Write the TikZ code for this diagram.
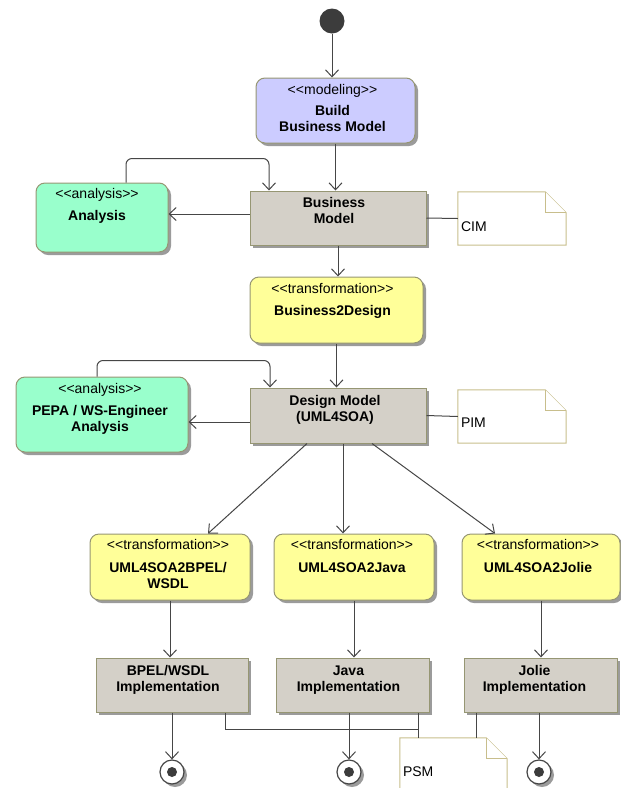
\documentclass[tikz,border=0pt]{standalone}
\usepackage{fontspec}
\setmainfont{Liberation Sans}
\usetikzlibrary{arrows.meta,shadows}
\definecolor{modelc}{RGB}{204,204,255}
\definecolor{anac}{RGB}{153,255,204}
\definecolor{transc}{RGB}{255,255,153}
\definecolor{artc}{RGB}{212,208,200}
\definecolor{boxline}{RGB}{150,150,115}
\definecolor{notec}{RGB}{200,190,140}
\definecolor{linec}{RGB}{70,70,70}
\definecolor{startc}{RGB}{60,60,60}
\definecolor{shadowc}{RGB}{155,155,155}
\newcommand{\stype}[1]{{\mdseries<{}<#1>{}>}}
\begin{document}
\begin{tikzpicture}[x=1pt,y=-1pt,
    shade/.style={drop shadow={shadow xshift=3pt,shadow yshift=-3pt,fill=shadowc,opacity=1}},
    act/.style={draw=boxline, line width=1pt, rounded corners=9pt, inner sep=0, shade},
    art/.style={draw=boxline, fill=artc, line width=1pt, inner sep=0, shade},
    notebox/.style={inner sep=0, minimum width=108pt, minimum height=53pt},
    noteline/.style={draw=notec, fill=white, line width=1pt},
    txt/.style={anchor=north, align=center, inner sep=0, font=\fontsize{14pt}{16pt}\selectfont\bfseries},
    notetxt/.style={anchor=west, inner sep=0, font=\fontsize{14pt}{16pt}\selectfont},
    flow/.style={draw=linec, line width=1pt, -{Straight Barb[length=7pt,width=13pt]}},
    link/.style={draw=linec, line width=1pt},
    endnode/.style={circle, draw=linec, line width=1.2pt, fill=white, minimum size=24pt, inner sep=0, shade}]
  \useasboundingbox (0,0) rectangle (621,788);
  \clip (0,0) rectangle (621,788);

  % activities and artifacts
  \node[circle, fill=startc, minimum size=25pt, inner sep=0] (start) at (332,21) {};
  \node[act, fill=modelc, minimum width=159pt, minimum height=65pt] (bbm) at (335.5,110.5) {};
  \node[art, minimum width=176pt, minimum height=54pt] (bm) at (338,218) {};
  \node[act, fill=anac, minimum width=132pt, minimum height=69pt] (ana) at (102,217.5) {};
  \node[notebox] (cim) at (512,218.5) {};
  \node[act, fill=transc, minimum width=173pt, minimum height=66pt] (b2d) at (336.5,310) {};
  \node[art, minimum width=176pt, minimum height=55pt] (dm) at (338,415.5) {};
  \node[act, fill=anac, minimum width=172pt, minimum height=75pt] (pepa) at (102,414.5) {};
  \node[notebox] (pim) at (512,416.5) {};
  \node[act, fill=transc, minimum width=160pt, minimum height=66pt] (t1) at (170,567) {};
  \node[act, fill=transc, minimum width=160pt, minimum height=66pt] (t2) at (354,567) {};
  \node[act, fill=transc, minimum width=158pt, minimum height=66pt] (t3) at (541,567) {};
  \node[art, minimum width=152pt, minimum height=54pt] (i1) at (172,685) {};
  \node[art, minimum width=153pt, minimum height=54pt] (i2) at (352.5,685) {};
  \node[art, minimum width=153pt, minimum height=54pt] (i3) at (540.5,685) {};
  \node[notebox, minimum width=107pt, minimum height=72pt] (psm) at (453.5,774) {};
  \node[endnode] (e1) at (172,772) {};
  \node[endnode] (e2) at (349,772) {};
  \node[endnode] (e3) at (539,772) {};
  \foreach \e in {e1,e2,e3}
    \fill[startc] (\e) circle (5pt);

  % notes
  \foreach \n in {cim,pim,psm} {
    \draw[noteline] (\n.north west) -- ([xshift=-21pt]\n.north east) -- ([yshift=-21pt]\n.north east)
      -- (\n.south east) -- (\n.south west) -- cycle;
    \draw[noteline] ([xshift=-21pt]\n.north east) |- ([yshift=-21pt]\n.north east);
  }

  % texts
  \node[txt] (bbm-t) at ([xshift=-3pt,yshift=-7pt]bbm.north) {\stype{modeling}\\[5pt]Build\\Business Model};
  \node[txt] (bm-t) at ([xshift=-4pt,yshift=-7pt]bm.north) {Business\\Model};
  \node[txt] (ana-t) at ([xshift=-5pt,yshift=-6pt]ana.north) {\stype{analysis}\\[6pt]Analysis};
  \node[txt] (b2d-t) at ([xshift=-4pt,yshift=-7pt]b2d.north) {\stype{transformation}\\[6pt]Business2Design};
  \node[txt] (dm-t) at ([xshift=-3pt,yshift=-8pt]dm.north) {Design Model\\(UML4SOA)};
  \node[txt] (pepa-t) at ([xshift=-2pt,yshift=-7pt]pepa.north) {\stype{analysis}\\[6pt]PEPA / WS-Engineer\\Analysis};
  \node[txt] (t1-t) at ([xshift=-2pt,yshift=-6pt]t1.north) {\stype{transformation}\\[7pt]UML4SOA2BPEL/\\WSDL};
  \node[txt] (t2-t) at ([xshift=-2pt,yshift=-6pt]t2.north) {\stype{transformation}\\[7pt]UML4SOA2Java};
  \node[txt] (t3-t) at ([xshift=-3pt,yshift=-6pt]t3.north) {\stype{transformation}\\[7pt]UML4SOA2Jolie};
  \node[txt] (i1-t) at ([xshift=-4pt,yshift=-8pt]i1.north) {BPEL/WSDL\\Implementation};
  \node[txt] (i2-t) at ([xshift=-4pt,yshift=-8pt]i2.north) {Java\\Implementation};
  \node[txt] (i3-t) at ([xshift=-6pt,yshift=-8pt]i3.north) {Jolie\\Implementation};
  \node[notetxt] (cim-t) at ([xshift=3pt,yshift=-8.5pt]cim.west) {CIM};
  \node[notetxt] (pim-t) at ([xshift=3pt,yshift=-6.5pt]pim.west) {PIM};
  \node[notetxt] (psm-t) at ([xshift=3pt,yshift=2pt]psm.west) {PSM};

  % flows
  \draw[flow] (start) -- (start |- bbm.north);
  \draw[flow] (bbm.south) -- (bbm.south |- bm.north);
  \draw[flow] ([yshift=4pt]bm.west) -- ([yshift=4pt]bm.west -| ana.east);
  \draw[flow, rounded corners=6pt] ([xshift=24pt]ana.north) -- ++(0,-24) -| ([xshift=-69pt]bm.north);
  \draw[link] (bm.east) -- (cim.west);
  \draw[flow] (bm.south) -- (bm.south |- b2d.north);
  \draw[flow] (b2d.south) -- (b2d.south |- dm.north);
  \draw[flow] ([yshift=-6.5pt]dm.west) -- ([yshift=-6.5pt]dm.west -| pepa.east);
  \draw[flow, rounded corners=6pt] ([xshift=-5pt]pepa.north) -- ++(0,-16) -| ([xshift=-68pt]dm.north);
  \draw[link] (dm.east) -- (pim.west);
  \draw[flow] ([xshift=-31pt]dm.south) -- ([xshift=38pt]t1.north);
  \draw[flow] ([xshift=5pt]dm.south) -- ([xshift=5pt]dm.south |- t2.north);
  \draw[flow] ([xshift=34pt]dm.south) -- ([xshift=-46pt]t3.north);
  \draw[flow] (t1.south) -- (t1.south |- i1.north);
  \draw[flow] (t2.south) -- (t2.south |- i2.north);
  \draw[flow] (t3.south) -- (t3.south |- i3.north);
  \draw[flow] (e1 |- i1.south) -- (e1.north);
  \draw[flow] (e2 |- i2.south) -- (e2.north);
  \draw[flow] (e3 |- i3.south) -- (e3.north);
  \coordinate (psmj) at (418,729);
  \draw[link] ([xshift=53pt]i1.south) |- (psmj);
  \draw[link] (psmj |- i2.south) -- (psmj |- psm.north);
  \draw[link] ([xshift=-64.5pt]i3.south) -- ([xshift=-64.5pt]i3.south |- psm.north);
\end{tikzpicture}
\end{document}
